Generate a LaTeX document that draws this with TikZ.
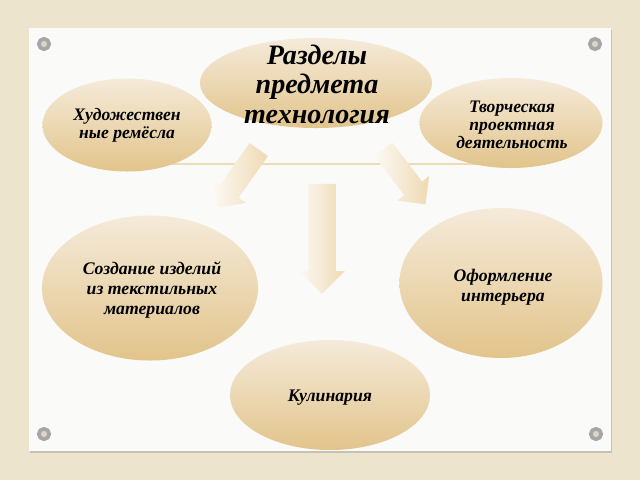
\documentclass[tikz,border=0pt]{standalone}
\usepackage{fontspec}
\setmainfont{Liberation Serif}
\usetikzlibrary{shapes.geometric,shapes.arrows,shadows}
\definecolor{canvas}{HTML}{EDE4CE}
\definecolor{paper}{HTML}{FAFAF9}
\definecolor{ovaltop}{HTML}{F5EBDA}
\definecolor{ovalbot}{HTML}{E2C48B}
\definecolor{arrowtail}{HTML}{FCF9F4}
\definecolor{arrowtip}{HTML}{EEDAB2}
\definecolor{linetan}{HTML}{EEDCB6}
\definecolor{screwin}{HTML}{DCD6C6}
\begin{document}
\begin{tikzpicture}[x=0.025cm,y=-0.025cm,
    oval/.style={ellipse,inner sep=0pt,draw=none,top color=ovaltop,bottom color=ovalbot},
    txt/.style={align=center,text=black,font=\bfseries\itshape\fontsize{12.5}{12.8}\selectfont},
    bigtxt/.style={align=center,text=black,font=\bfseries\itshape\fontsize{12.6}{13.9}\selectfont},
    barrow/.style={single arrow,draw=none,inner xsep=0pt,single arrow head extend=0.225cm,left color=arrowtail,right color=arrowtip},
    screw/.style={circle,inner sep=0pt,minimum size=0.26cm,fill=screwin,draw=gray!70,line width=2.6pt}]
    \useasboundingbox (0,0) rectangle (640,480);
    \fill[canvas] (0,0) rectangle (640,480);
    \fill[paper,drop shadow={shadow xshift=0.6pt,shadow yshift=-1.4pt,opacity=0.35}] (29,28) rectangle (611,451);

    \node[screw] (s1) at (44,44) {};
    \node[screw] (s2) at (595,44) {};
    \node[screw] (s3) at (44,434) {};
    \node[screw] (s4) at (596,434) {};

    \coordinate (hl) at (127,164);
    \coordinate (hr) at (511,164);
    \draw[linetan,line width=1.5pt] (hl) -- (hr);

    \node[barrow,inner ysep=0.275cm,minimum height=1.78cm,rotate=-125.3] (arl) at (241.5,174) {};
    \node[barrow,inner ysep=0.275cm,minimum height=1.73cm,rotate=-52.6] (arr) at (401,172.5) {};
    \node[barrow,inner ysep=0.3375cm,minimum height=2.75cm,rotate=-90] (arm) at (322,232) {};

    \node[oval,minimum width=5.8cm,minimum height=2.25cm] (razd) at (316,83) {};
    \node[txt,font=\bfseries\itshape\fontsize{20}{21}\selectfont] (razdt) at (317,84) {Разделы\\предмета\\технология};

    \node[oval,minimum width=4.225cm,minimum height=2.325cm] (hud) at (127,125) {};
    \node[txt] (hudt) at (hud) {Художествен\\ные ремёсла};

    \node[oval,minimum width=4.575cm,minimum height=2.25cm] (tvor) at (511,123) {};
    \node[txt] (tvort) at (512,125) {Творческая\\проектная\\деятельность};

    \node[oval,minimum width=5.4cm,minimum height=3.625cm] (tekst) at (150,288) {};
    \node[bigtxt] (tekstt) at (152,290) {Создание изделий\\из текстильных\\материалов};

    \node[oval,minimum width=5.075cm,minimum height=3.75cm] (inter) at (501,283) {};
    \node[bigtxt] (intert) at (503,287) {Оформление\\интерьера};

    \node[oval,minimum width=5cm,minimum height=2.75cm] (kul) at (330,395) {};
    \node[bigtxt] (kult) at (330,398) {Кулинария};
\end{tikzpicture}
\end{document}
